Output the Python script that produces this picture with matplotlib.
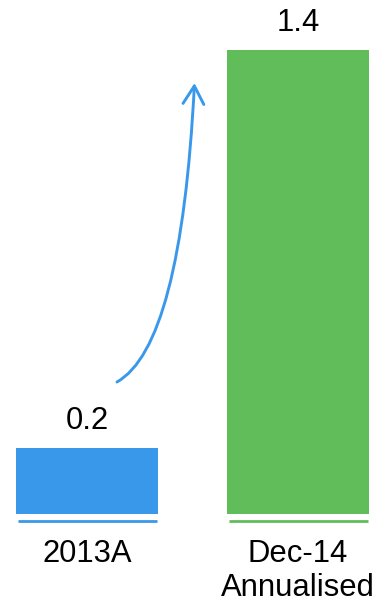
import matplotlib
matplotlib.use("Agg")
import matplotlib.pyplot as plt
from matplotlib.path import Path
from matplotlib.patches import FancyArrowPatch

# Data
categories = ["2013A", "Dec-14\nAnnualised"]
values = [0.2, 1.4]
value_labels = ["0.2", "1.4"]
colors = ["#3A98EB", "#61BC5A"]

W, H = 379, 604
DPI = 100
plt.rcParams["font.family"] = ["Liberation Sans", "DejaVu Sans"]

fig = plt.figure(figsize=(W / DPI, H / DPI), dpi=DPI)
ax = fig.add_axes([0, 0, 1, 1])

# Pixel layout: baseline at y=514 px, 331.5 px per unit, bar centres 211 px apart
px_per_unit = 331.5
base_px = 514
ax.set_ylim(-(H - base_px) / px_per_unit, base_px / px_per_unit)
step_px = 211
x0_px = 87
ax.set_xlim(-x0_px / step_px, (W - x0_px) / step_px)
ax.axis("off")

bar_w = 142 / step_px
xs = list(range(len(values)))
ax.bar(xs, values, width=bar_w, color=colors, linewidth=0)

fs = 22.3
for x, v, lab, c, cat in zip(xs, values, value_labels, colors, categories):
    # value label above bar
    ax.text(x, v + 19 / px_per_unit, lab, ha="center", va="baseline",
            fontsize=fs, color="black")
    # thin underline below each bar
    half = (bar_w - 3 / step_px) / 2
    ax.plot([x - half, x + half], [-7.3 / px_per_unit] * 2, color=c,
            linewidth=2.0, solid_capstyle="butt")
    # category label(s)
    for i, line in enumerate(cat.split("\n")):
        ax.text(x, -(48.5 + 34 * i) / px_per_unit, line, ha="center",
                va="baseline", fontsize=fs, color="black")

# Curved growth arrow drawn in figure pixel coordinates
def fig_px(x, y):
    return (x / W, 1 - y / H)

p0 = fig_px(117, 382)
p1 = fig_px(181, 346)
p2 = fig_px(194.5, 83)
path = Path([p0, p1, p2], [Path.MOVETO, Path.CURVE3, Path.CURVE3])
arrow = FancyArrowPatch(path=path, transform=fig.transFigure,
                        arrowstyle="->,head_length=13,head_width=7.5",
                        color=colors[0], linewidth=2.1,
                        mutation_scale=1)
fig.add_artist(arrow)

fig.savefig("out.png", dpi=DPI)
